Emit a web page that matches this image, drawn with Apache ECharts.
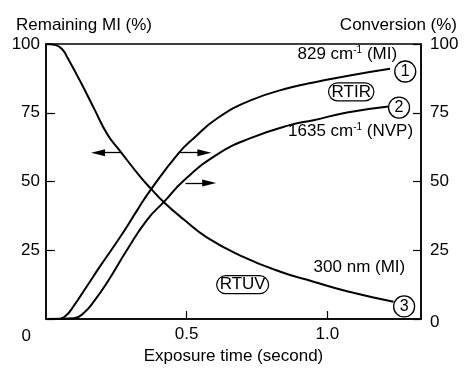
<!DOCTYPE html>
<html><head><meta charset="utf-8">
<script src="https://cdn.jsdelivr.net/npm/echarts@6/dist/echarts.min.js"></script>
<style>html,body{margin:0;padding:0;background:#fff}#c{width:464px;height:370px}</style>
</head><body><div id="c"></div>
<script>
// RTUV: remaining MI (%) at 300 nm
const uvTime = [0, 0.035, 0.059, 0.077, 0.124, 0.171, 0.219, 0.26, 0.337, 0.372, 0.42, 0.49, 0.573, 0.691, 0.833, 0.951, 1.07, 1.235];
const uvValue = [100, 99.6, 97.9, 94.9, 86, 76.5, 67, 61.5, 51.5, 47.5, 42.4, 36.2, 29.6, 23.1, 17.2, 13.6, 10.1, 6.3];
// RTIR 829 cm-1 (MI) conversion (%)
const irMiTime = [0, 0.04, 0.07, 0.1, 0.136, 0.195, 0.266, 0.325, 0.372, 0.473, 0.526, 0.609, 0.727, 0.869, 0.951, 1.07, 1.223];
const irMiValue = [0, 0, 1.2, 5.0, 10.5, 19.6, 30.2, 39.7, 47.0, 60.5, 65.8, 73, 79.5, 84.2, 86, 88.4, 91];
// RTIR 1635 cm-1 (NVP) conversion (%)
const irNvpTime = [0, 0.1, 0.136, 0.171, 0.219, 0.29, 0.36, 0.42, 0.49, 0.609, 0.727, 0.869, 0.951, 1.07, 1.217];
const irNvpValue = [0, 0.3, 2.4, 6.5, 13.6, 25.5, 36.2, 42.7, 50.4, 59.9, 65.8, 70.6, 72.3, 75.1, 77.3];
// curve markers
const markerTime = [1.277, 1.255, 1.273];
const markerValue = [90.0, 76.9, 4.6];
const markerText = ['1', '2', '3'];
// ticks
const xLabelValues = [0.5, 1.0];
const xTickValues = [0.5, 1.0];

const F = 'Liberation Sans, Arial, Helvetica, sans-serif';
const FS = 17;
const pairs = (a, b) => a.map((t, i) => [t, b[i]]);
const curveStyle = { color: '#000', width: 2 };
const arrowLine = (x1, x2, y) => [{ coord: [x1, y], symbol: 'none' }, { coord: [x2, y], symbol: 'triangle' }];
const arrowStyle = { silent: true, symbolSize: [7, 14], lineStyle: { color: '#000', width: 1.3, type: 'solid' }, itemStyle: { color: '#000' }, label: { show: false } };

const chart = echarts.init(document.getElementById('c'), null, { renderer: 'canvas' });
chart.setOption({
  animation: false,
  backgroundColor: '#fff',
  textStyle: { fontFamily: F, color: '#000' },
  title: [
    { text: 'Remaining MI (%)', left: 11, top: 12, textStyle: { fontFamily: F, fontSize: FS, fontWeight: 'normal', color: '#000' } },
    { text: 'Conversion (%)', right: 2, top: 12, textStyle: { fontFamily: F, fontSize: FS, fontWeight: 'normal', color: '#000' } }
  ],
  grid: { left: 46, right: 43, top: 44, bottom: 45, show: true, borderColor: '#000', borderWidth: 1.5, backgroundColor: 'transparent' },
  xAxis: {
    type: 'value', min: 0, max: 1.333, interval: 0.5,
    name: 'Exposure time (second)', nameLocation: 'middle', nameGap: 28,
    nameTextStyle: { fontFamily: F, fontSize: FS, color: '#000' },
    axisLine: { lineStyle: { color: '#000', width: 1.5 } },
    axisTick: { inside: true, length: 8, lineStyle: { color: '#000', width: 1.2 }, customValues: xTickValues },
    axisLabel: { fontFamily: F, fontSize: FS, color: '#000', margin: 7, customValues: xLabelValues,
      formatter: v => v.toFixed(1) },
    splitLine: { show: false }
  },
  yAxis: [
    {
      type: 'value', min: 0, max: 100, interval: 25, position: 'left',
      axisLine: { show: true, lineStyle: { color: '#000', width: 1.5 } },
      axisTick: { inside: true, length: 9, lineStyle: { color: '#000', width: 1.2 } },
      axisLabel: { fontFamily: F, fontSize: FS, color: '#000', margin: 6,
        formatter: v => v === 0 ? '{z|0}' : String(v),
        rich: { z: { fontFamily: F, fontSize: FS, color: '#000', padding: [34, 9, 0, 0] } } },
      splitLine: { show: false }
    },
    {
      type: 'value', min: 0, max: 100, interval: 25, position: 'right',
      axisLine: { show: true, lineStyle: { color: '#000', width: 1.5 } },
      axisTick: { inside: true, length: 8, lineStyle: { color: '#000', width: 1.2 } },
      axisLabel: { fontFamily: F, fontSize: FS, color: '#000', margin: 9,
        formatter: v => v === 0 ? '{z|0}' : String(v),
        rich: { z: { fontFamily: F, fontSize: FS, color: '#000', padding: [6, 0, 0, 0] } } },
      splitLine: { show: false }
    }
  ],
  series: [
    {
      name: '300 nm (MI)', type: 'line', yAxisIndex: 0, smooth: 0.5, showSymbol: false, symbol: 'none',
      data: pairs(uvTime, uvValue), lineStyle: curveStyle,
      markLine: Object.assign({ data: [arrowLine(0.266, 0.185, 60.5)] }, arrowStyle)
    },
    {
      name: '829 cm-1 (MI)', type: 'line', yAxisIndex: 1, smooth: 0.5, showSymbol: false, symbol: 'none',
      data: pairs(irMiTime, irMiValue), lineStyle: curveStyle,
      markLine: Object.assign({ data: [arrowLine(0.473, 0.563, 60.5)] }, arrowStyle)
    },
    {
      name: '1635 cm-1 (NVP)', type: 'line', yAxisIndex: 1, smooth: 0.5, showSymbol: false, symbol: 'none',
      data: pairs(irNvpTime, irNvpValue), lineStyle: curveStyle,
      markLine: Object.assign({ data: [arrowLine(0.496, 0.58, 49.5)] }, arrowStyle)
    },
    {
      type: 'scatter', yAxisIndex: 1, symbol: 'circle', symbolSize: 21,
      itemStyle: { color: '#fff', borderColor: '#000', borderWidth: 1.3, opacity: 1 },
      label: { show: true, position: 'inside', fontFamily: F, fontSize: 16, color: '#000', formatter: p => p.value[2] },
      data: markerTime.map((t, i) => [t, markerValue[i], markerText[i]]), z: 5
    },
    {
      type: 'scatter', yAxisIndex: 1, symbolSize: 0, silent: true, itemStyle: { opacity: 1 },
      label: { show: true, position: 'left', distance: 0, fontFamily: F, fontSize: FS, color: '#000', opacity: 1,
        formatter: p => p.value[2],
        rich: { sup: { fontFamily: F, fontSize: 10, color: '#000', verticalAlign: 'top', padding: [0, 0, 8, 0] } } },
      data: [
        [1.248, 96.1, '829 cm{sup|-1} (MI)'],
        [1.305, 68.3, '1635 cm{sup|-1} (NVP)'],
        [1.277, 18.9, '300 nm (MI)']
      ]
    },
    {
      type: 'scatter', yAxisIndex: 1, symbolSize: 0, silent: true, itemStyle: { opacity: 1 },
      label: { show: true, position: 'inside', fontFamily: F, fontSize: FS, color: '#000', opacity: 1,
        borderColor: '#000', borderWidth: 1.2, borderRadius: 10, padding: [1, 3, 0, 3],
        formatter: p => p.value[2] },
      data: [
        [1.085, 82.6, 'RTIR'],
        [0.699, 12.5, 'RTUV']
      ]
    }
  ]
});
</script></body></html>
